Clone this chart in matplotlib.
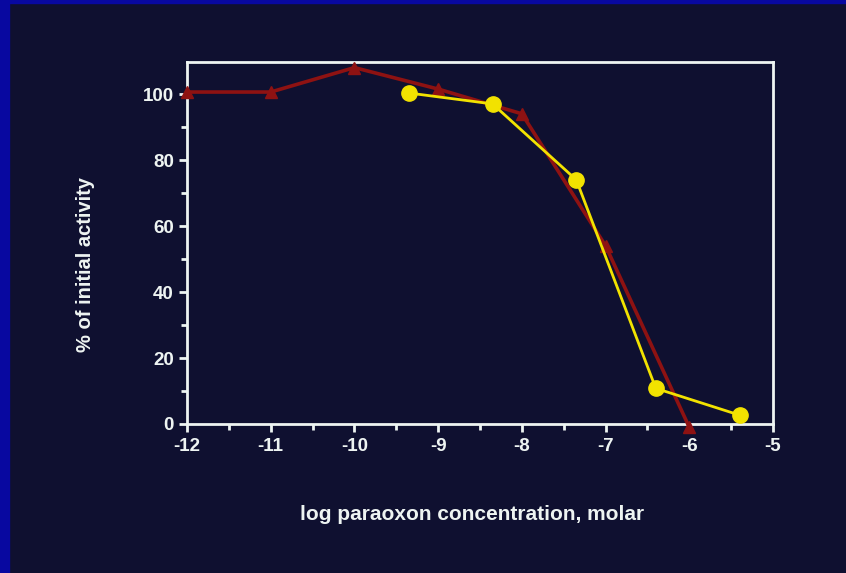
import matplotlib
matplotlib.use("Agg")
import matplotlib.pyplot as plt
from matplotlib.patches import Rectangle
from matplotlib.ticker import MultipleLocator

# Data
red_x = [-12, -11, -10, -9, -8, -7, -6]
red_y = [100.6, 100.6, 108, 101.5, 94, 54, -1]
yellow_x = [-9.35, -8.35, -7.35, -6.4, -5.4]
yellow_y = [100.3, 97, 74, 10.8, 2.7]
x_ticks = [-12, -11, -10, -9, -8, -7, -6, -5]
y_ticks = [0, 20, 40, 60, 80, 100]

bg = "#0f1030"
fg = "#eef4f2"
plt.rcParams['font.family'] = ['Liberation Sans', 'DejaVu Sans']
plt.rcParams['axes.unicode_minus'] = False

fig = plt.figure(figsize=(8.46, 5.73), dpi=100, facecolor=bg)
# blue border (left and top)
fig.patches.append(Rectangle((0, 0), 9/846, 1, transform=fig.transFigure, color="#0808a0", zorder=0))
fig.patches.append(Rectangle((0, 1 - 3/573), 1, 3/573, transform=fig.transFigure, color="#0808a0", zorder=0))

ax = fig.add_axes([187/846, 1 - 424/573, (773 - 187)/846, (424 - 62)/573])
ax.set_facecolor(bg)
ax.set_xlim(-12, -5)
ax.set_ylim(0, 109.7)

ax.plot(red_x, red_y, color="#8e1212", lw=2.6, marker="^", ms=9, clip_on=False, zorder=3)
ax.plot(yellow_x, yellow_y, color="#f2e200", lw=2.0, marker="o", ms=11, clip_on=False, zorder=4)

for s in ax.spines.values():
    s.set_color(fg)
    s.set_linewidth(2)

ax.set_xticks(x_ticks)
ax.set_yticks(y_ticks)
ax.xaxis.set_minor_locator(MultipleLocator(0.5))
ax.yaxis.set_minor_locator(MultipleLocator(10))
ax.tick_params(axis='both', which='major', colors=fg, width=2, length=6, labelsize=13.5, direction='out')
ax.tick_params(axis='both', which='minor', colors=fg, width=2, length=4, direction='out')
ax.tick_params(axis='x', pad=4)
for lab in ax.get_xticklabels() + ax.get_yticklabels():
    lab.set_fontweight('bold')
    lab.set_color(fg)

fig.text(472/846, 1 - 515/573, "log paraoxon concentration, molar", color=fg, fontsize=15,
         fontweight='bold', ha='center', va='center')
fig.text(85/846, 1 - 264/573, "% of initial activity", color=fg, fontsize=14.5,
         fontweight='bold', ha='center', va='center', rotation=90)

fig.savefig("out.png", dpi=100, facecolor=bg)
